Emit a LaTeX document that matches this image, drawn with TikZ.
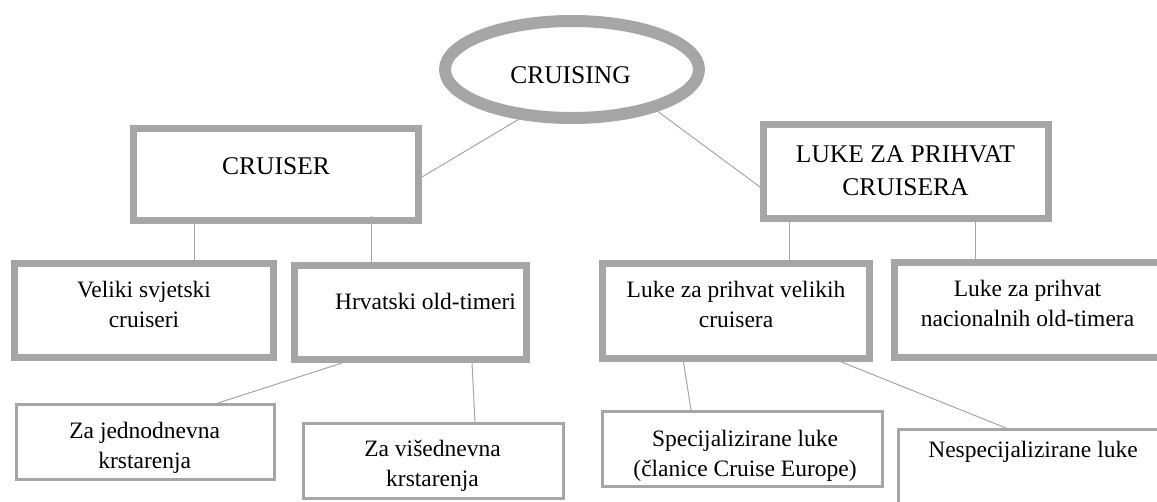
\documentclass[tikz,border=0pt]{standalone}
\usepackage{fontspec}
\setmainfont{Liberation Serif}
\usetikzlibrary{calc,shapes.geometric}
\definecolor{bord}{HTML}{A6A6A6}
\definecolor{conn}{HTML}{A6A6A6}
\begin{document}
\begin{tikzpicture}[x=1pt,y=-1pt,
  thickbox/.style={draw=bord,line width=7pt,rectangle,inner sep=0pt},
  thinbox/.style={draw=bord,line width=3pt,rectangle,inner sep=0pt},
  ring/.style={draw=bord,line width=12pt,ellipse,inner sep=0pt},
  ttl/.style={font=\fontsize{25.5}{32.5}\selectfont,align=center,inner sep=0pt,anchor=base},
  txt/.style={font=\fontsize{23.5}{29.5}\selectfont,align=center,inner sep=0pt,anchor=base},
  link/.style={draw=conn,line width=1pt}]
\useasboundingbox (0,0) rectangle (1157,501);

% shapes
\node[ring,minimum width=254pt,minimum height=97pt] (ell) at (572,69.5) {};
\node[thickbox,minimum width=285pt,minimum height=92pt] (cruiser) at (276,174.5) {};
\node[thickbox,minimum width=285pt,minimum height=94pt] (luke) at (906,171.5) {};
\node[thickbox,minimum width=259pt,minimum height=94pt] (veliki) at (144,310.5) {};
\node[thickbox,minimum width=232pt,minimum height=94pt] (hrv) at (410.5,312.5) {};
\node[thickbox,minimum width=267pt,minimum height=95pt] (lvel) at (736,311) {};
\node[thickbox,minimum width=266pt,minimum height=95pt] (lnac) at (1027.5,310) {};
\node[thinbox,minimum width=258pt,minimum height=75pt] (zaj) at (145.5,442) {};
\node[thinbox,minimum width=260pt,minimum height=75pt] (zav) at (433.5,461) {};
\node[thinbox,minimum width=280pt,minimum height=75pt] (spec) at (742.5,449) {};
\node[thinbox,minimum width=269pt,minimum height=99pt] (nesp) at (1033,479) {};

% texts (base anchor = baseline of the last line)
\node[ttl] (tcruising) at (570.5,83) {CRUISING};
\node[ttl] (tcruiser) at (276,174) {CRUISER};
\node[ttl] (tluke) at (905.5,195) {LUKE ZA PRIHVAT\\CRUISERA};
\node[txt] (tveliki) at (144,327) {Veliki svjetski\\cruiseri};
\node[txt] (thrv) at (425.5,309) {Hrvatski old-timeri};
\node[txt] (tlvel) at (736,327) {Luke za prihvat velikih\\cruisera};
\node[txt] (tlnac) at (1027.5,326) {Luke za prihvat\\nacionalnih old-timera};
\node[txt] (tzaj) at (144.7,468) {Za jednodnevna\\krstarenja};
\node[txt] (tzav) at (432.5,486) {Za višednevna\\krstarenja};
\node[txt] (tspec) at (745,476) {Specijalizirane luke\\(članice Cruise Europe)};
\node[txt] (tnesp) at (1033,457) {Nespecijalizirane luke};

% connectors
\coordinate (xa) at (194,0);
\coordinate (xb) at (371,0);
\coordinate (xc) at (789,0);
\coordinate (xd) at (975,0);
\draw[link] (ell.223) -- ($(cruiser.east)+(0,2.5)$);
\draw[link] (ell.334) -- ($(luke.west)+(0,15.5)$);
\draw[link] (cruiser.south -| xa) -- (veliki.north -| xa);
\draw[link] ($(cruiser.south -| xb)+(0,-8)$) -- (hrv.north -| xb);
\draw[link] (luke.south -| xc) -- (lvel.north -| xc);
\draw[link] (luke.south -| xd) -- (lnac.north -| xd);
\draw[link] ($(hrv.south)+(-68.5,0)$) -- ($(zaj.north)+(72.5,0)$);
\draw[link] ($(hrv.south)+(61.5,0)$) -- ($(zav.north)+(41.5,0)$);
\draw[link] ($(lvel.south)+(-52.5,0)$) -- ($(spec.north)+(-51.5,0)$);
\draw[link] ($(lvel.south)+(105.5,0)$) -- ($(nesp.north)+(-27,0)$);
\end{tikzpicture}
\end{document}
